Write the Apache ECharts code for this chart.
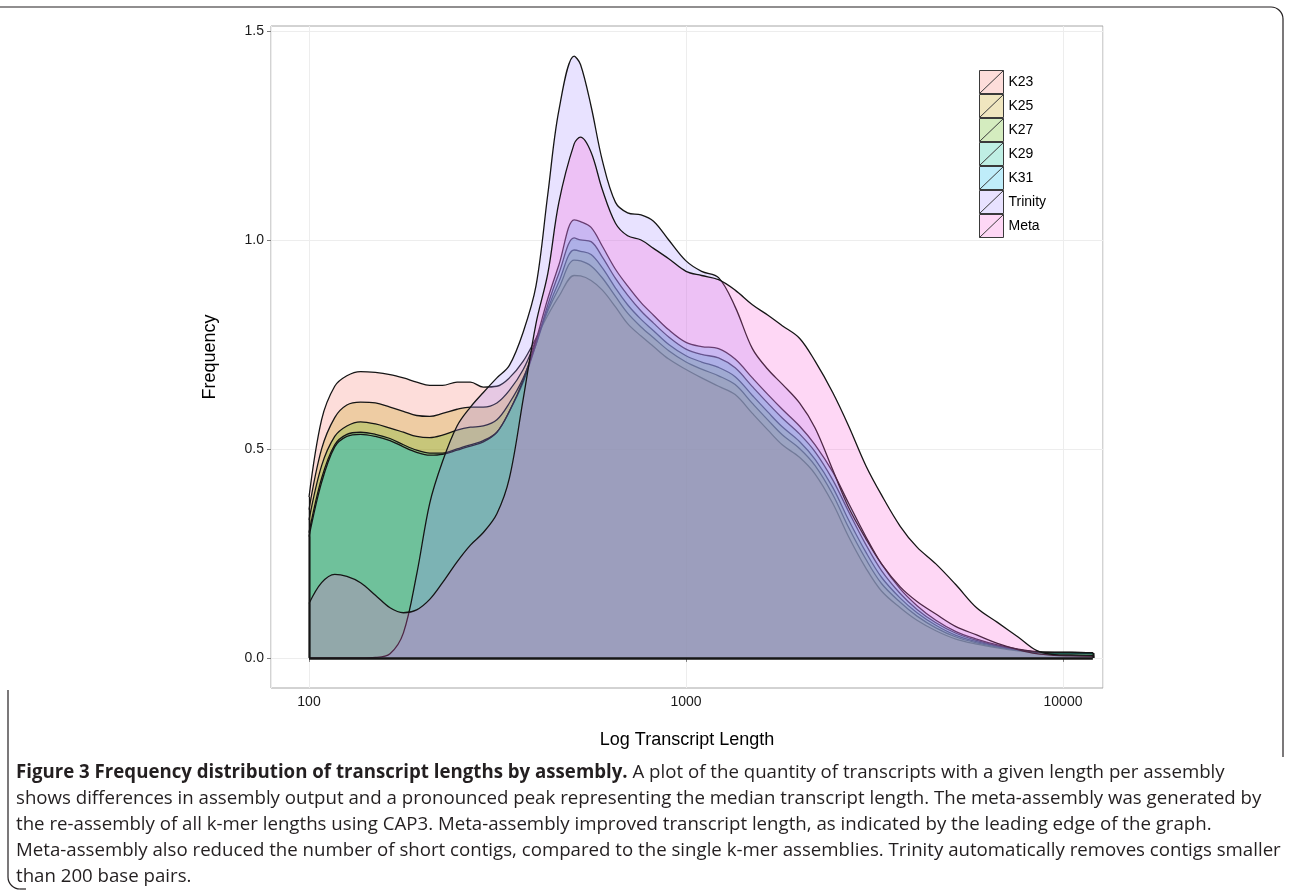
<!DOCTYPE html>
<html><head><meta charset="utf-8">
<script src="https://cdn.jsdelivr.net/npm/echarts@6/dist/echarts.min.js"></script>
<style>html,body{margin:0;padding:0;background:#fff}#c{width:1290px;height:895px}</style>
</head><body><div id="c"></div>
<script>
// ---- data ----
const lengths = [100,108,117,126,137,150,164,178,193,209,226,247,268,290,315,340,370,400,430,460,505,525,560,600,650,700,760,820,900,1000,1100,1220,1350,1500,1650,1800,2000,2200,2450,2700,3000,3300,3700,4100,4600,5200,5900,6700,7600,8500,9500,10500,12000];
const seriesNames = ['K23','K25','K27','K29','K31','Trinity','Meta'];
const k23 = [0.385,0.57,0.65,0.675,0.685,0.683,0.678,0.67,0.66,0.652, 0.652,0.66,0.66,0.648,0.65,0.67,0.71,0.765,0.82,0.865, 0.915,0.914,0.903,0.88,0.84,0.80,0.77,0.745,0.715,0.69, 0.67,0.65,0.63,0.585,0.545,0.51,0.48,0.44,0.37,0.29, 0.215,0.16,0.12,0.09,0.065,0.045,0.033,0.024,0.017,0.013, 0.012,0.012,0.01];
const k25 = [0.355,0.5,0.575,0.605,0.612,0.61,0.60,0.59,0.58,0.578, 0.585,0.595,0.60,0.60,0.61,0.64,0.69,0.76,0.83,0.885, 0.952,0.95,0.938,0.909,0.865,0.825,0.792,0.766,0.735,0.708, 0.691,0.675,0.654,0.609,0.569,0.534,0.501,0.46,0.391,0.312, 0.236,0.178,0.133,0.1,0.072,0.05,0.036,0.026,0.018,0.013, 0.012,0.012,0.011];
const k27 = [0.33,0.46,0.53,0.555,0.565,0.56,0.55,0.54,0.53,0.527, 0.533,0.545,0.552,0.555,0.57,0.61,0.67,0.75,0.835,0.9, 0.976,0.973,0.965,0.933,0.885,0.845,0.81,0.783,0.75,0.723, 0.708,0.695,0.673,0.628,0.588,0.553,0.518,0.475,0.408,0.33, 0.253,0.193,0.143,0.108,0.078,0.054,0.039,0.028,0.019,0.014, 0.013,0.013,0.012];
const k29 = [0.30,0.43,0.51,0.535,0.54,0.535,0.525,0.51,0.497,0.49, 0.49,0.5,0.51,0.52,0.54,0.59,0.66,0.75,0.845,0.92, 1.005,1.0,0.996,0.959,0.908,0.868,0.83,0.801,0.768,0.739, 0.726,0.718,0.694,0.649,0.609,0.574,0.536,0.493,0.426,0.35, 0.271,0.209,0.154,0.116,0.084,0.059,0.042,0.029,0.02,0.014, 0.013,0.013,0.012];
const k31 = [0.29,0.42,0.505,0.53,0.535,0.53,0.52,0.505,0.492,0.485, 0.487,0.497,0.507,0.517,0.54,0.59,0.665,0.76,0.86,0.94, 1.048,1.044,1.03,0.985,0.93,0.89,0.85,0.82,0.785,0.755, 0.745,0.74,0.715,0.67,0.63,0.595,0.555,0.51,0.445,0.37, 0.29,0.225,0.165,0.125,0.09,0.063,0.045,0.031,0.021,0.015, 0.013,0.013,0.012];
const trinity = [0,0,0,0,0,0.001,0.01,0.06,0.2,0.37, 0.47,0.555,0.6,0.635,0.67,0.7,0.78,0.89,1.11,1.31, 1.44,1.42,1.32,1.19,1.09,1.065,1.06,1.045,1.0,0.95, 0.925,0.91,0.84,0.74,0.69,0.655,0.61,0.55,0.45,0.36, 0.285,0.225,0.17,0.135,0.105,0.075,0.055,0.035,0.02,0.01, 0.006,0.005,0.004];
const meta = [0.13,0.18,0.2,0.195,0.18,0.15,0.12,0.108,0.115,0.14, 0.18,0.23,0.27,0.30,0.345,0.43,0.62,0.80,0.92,1.09, 1.23,1.246,1.21,1.12,1.04,1.01,1.0,0.98,0.955,0.925, 0.915,0.905,0.88,0.845,0.82,0.795,0.765,0.71,0.635,0.555, 0.46,0.39,0.315,0.265,0.225,0.175,0.12,0.085,0.05,0.018, 0.008,0.007,0.006];
const yTicks = [0, 0.5, 1.0, 1.5];
const xTitle = 'Log Transcript Length';
const yTitle = 'Frequency';
const captionBold = 'Figure 3 Frequency distribution of transcript lengths by assembly.';
const captionLines = [
  ' A plot of the quantity of transcripts with a given length per assembly',
  'shows differences in assembly output and a pronounced peak representing the median transcript length. The meta-assembly was generated by',
  'the re-assembly of all k-mer lengths using CAP3. Meta-assembly improved transcript length, as indicated by the leading edge of the graph.',
  'Meta-assembly also reduced the number of short contigs, compared to the single k-mer assemblies. Trinity automatically removes contigs smaller',
  'than 200 base pairs.'
];

// ---- styling ----
const colors = ['#F8766D','#C49A00','#53B400','#00C094','#00B6EB','#A58AFF','#FB61D7'];
const ALPHA = 0.25;
function rgba(hex, a){const n=parseInt(hex.slice(1),16);return `rgba(${n>>16&255},${n>>8&255},${n&255},${a})`;}
const valueSets = [k23,k25,k27,k29,k31,trinity,meta];
const L0 = lengths[0], Ln = lengths[lengths.length-1];

const series = seriesNames.map((name,i)=>{
  const vals = valueSets[i];
  const edges = [
    [{coord:[L0,0]},{coord:[L0,vals[0]]}],
    [{coord:[Ln,0]},{coord:[Ln,vals[vals.length-1]]}]
  ];
  if (i === seriesNames.length-1) edges.push([{coord:[L0,0], lineStyle:{width:2.6}},{coord:[Ln,0]}]);
  return {
    name, type:'line', z: 2 + i, data: lengths.map((L,j)=>[L, vals[j]]),
    smooth: 0.35, symbol:'none', showSymbol:false, silent:true,
    itemStyle:{color: rgba(colors[i], ALPHA)},
    lineStyle:{color:'#151515', width:1.3},
    areaStyle:{color: rgba(colors[i], ALPHA), opacity:1},
    emphasis:{disabled:true},
    markLine:{silent:true, z: 20, symbol:'none', label:{show:false}, animation:false,
      lineStyle:{color:'#151515', width:1.3, type:'solid'}, emphasis:{disabled:true}, data: edges}
  };
});

// caption font size fitted to the reference line width
const meas = document.createElement('canvas').getContext('2d');
const capFamily = 'Open Sans';
meas.font = `400 20px "${capFamily}"`;
const capSize = 20 * 1246 / meas.measureText(captionLines[1]).width;

const capGraphics = captionLines.map((t,i)=>({
  type:'text', x:16, y:773 + i*26, silent:true,
  style: i===0 ? {
      text:'{b|'+captionBold+'}'+t,
      rich:{b:{fontWeight:'bold', fontSize:capSize, fontFamily:capFamily, fill:'#231f20'}},
      fontSize:capSize, fontFamily:capFamily, fill:'#231f20', verticalAlign:'middle'
    } : {text:t, fontSize:capSize, fontFamily:capFamily, fill:'#231f20', verticalAlign:'middle'}
}));

const frameStyle = {fill:'none', stroke:'#231f20', lineWidth:1.2};
const frame = [
  {type:'polyline', shape:{points:[[0,7],[1271,7]]}, style:frameStyle, silent:true},
  {type:'arc', shape:{cx:1271, cy:19, r:12, startAngle:-Math.PI/2, endAngle:0, clockwise:true}, style:frameStyle, silent:true},
  {type:'polyline', shape:{points:[[1283,19],[1283,757]]}, style:frameStyle, silent:true},
  {type:'polyline', shape:{points:[[8,690],[8,877]]}, style:frameStyle, silent:true},
  {type:'arc', shape:{cx:20, cy:877, r:12, startAngle:Math.PI/2, endAngle:Math.PI, clockwise:true}, style:frameStyle, silent:true},
  {type:'polyline', shape:{points:[[20,889],[26,889]]}, style:frameStyle, silent:true}
];

const chart = echarts.init(document.getElementById('c'), null, {renderer:'canvas'});
chart.setOption({
  animation:false,
  backgroundColor:'#fff',
  grid:{left:271, right:187, top:26, bottom:207, show:true, borderColor:'#a6a6a6', borderWidth:1, backgroundColor:'#fff'},
  xAxis:{
    type:'log', logBase:10, min:79.28, max:12767,
    axisLine:{show:false},
    axisTick:{show:true, length:4, lineStyle:{color:'#7f7f7f'}},
    axisLabel:{showMinLabel:false, showMaxLabel:false, formatter:v=>String(Math.round(v)), color:'#1a1a1a', fontSize:14, fontFamily:'Liberation Sans', margin:7},
    splitLine:{show:true, lineStyle:{color:'#ededed'}},
    name:xTitle, nameLocation:'middle', nameGap:43,
    nameTextStyle:{fontSize:18, color:'#000', fontFamily:'Liberation Sans'}
  },
  yAxis:{
    type:'value', min:-0.072, max:1.512,
    axisLine:{show:false},
    axisTick:{show:true, length:4, lineStyle:{color:'#7f7f7f'}, customValues:yTicks},
    axisLabel:{customValues:yTicks, formatter:v=>v.toFixed(1), color:'#1a1a1a', fontSize:14, fontFamily:'Liberation Sans', margin:7},
    splitLine:{show:true, lineStyle:{color:'#ededed'}},
    name:yTitle, nameLocation:'middle', nameGap:52,
    nameTextStyle:{fontSize:18, color:'#000', fontFamily:'Liberation Sans'}
  },
  legend:{
    orient:'vertical', left:974, top:65, itemWidth:24, itemHeight:23, itemGap:0,
    icon:'path://M0,0L24,0L24,23L0,23Z M0,23L24,0',
    itemStyle:{borderColor:'#3a3a3a', borderWidth:1},
    textStyle:{fontSize:14, color:'#000', fontFamily:'Liberation Sans'},
    selectedMode:false, data:seriesNames
  },
  series,
  graphic:[...frame, ...capGraphics]
});
</script></body></html>
